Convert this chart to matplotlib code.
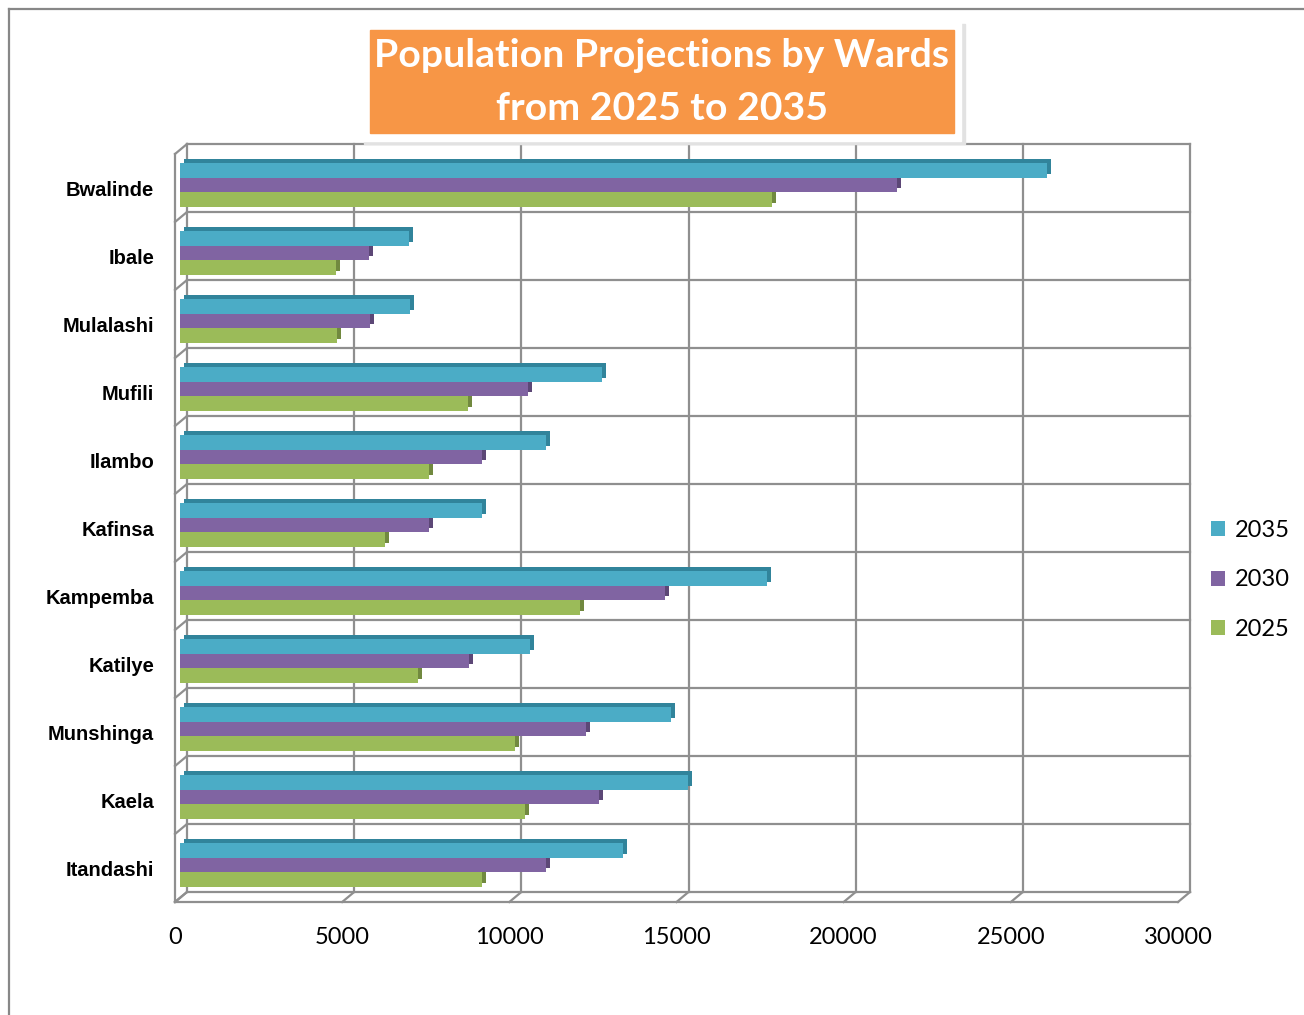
import numpy as np
import matplotlib
matplotlib.use("Agg")
import matplotlib.pyplot as plt
from matplotlib.patches import Rectangle
from matplotlib.lines import Line2D
from matplotlib.transforms import ScaledTranslation

wards = ['Bwalinde', 'Ibale', 'Mulalashi', 'Mufili', 'Ilambo', 'Kafinsa',
         'Kampemba', 'Katilye', 'Munshinga', 'Kaela', 'Itandashi']
pop_2035 = [25930, 6860, 6880, 12620, 10940, 9030, 17550, 10470, 14680, 15180, 13260]
pop_2030 = [21440, 5660, 5680, 10420, 9030, 7460, 14510, 8635, 12140, 12520, 10950]
pop_2025 = [17700, 4670, 4690, 8605, 7460, 6140, 11970, 7130, 10020, 10330, 9040]
years = ['2035', '2030', '2025']
x_ticks = [0, 5000, 10000, 15000, 20000, 25000, 30000]

face_cols = ['#4BACC6', '#8064A2', '#9BBB59']
side_cols = ['#31849B', '#5C4776', '#71893F']
grid_col = '#8f8f8f'

W, H = 1304, 1015
fig = plt.figure(figsize=(W / 100, H / 100), dpi=100)

def fx(px):
    return px / W

def fy(py):
    return 1 - py / H

# back wall of the pseudo 3D plot area
ax = fig.add_axes([fx(187), fy(892), fx(1190) - fx(187), fy(144) - fy(892)])
ax.set_xlim(0, 30000)
ax.set_ylim(10.5, -0.5)
ax.axis('off')

def shift(dx, dy):
    # offset in pixels (dy positive = up)
    return ax.transData + ScaledTranslation(dx / 100, dy / 100, fig.dpi_scale_trans)

front = shift(-12, -10)
lw = 1.6

for x in x_ticks:
    ax.plot([x, x], [-0.5, 10.5], color=grid_col, lw=lw, zorder=1, clip_on=False)
    t = fig.dpi_scale_trans + ScaledTranslation(x, 10.5, ax.transData)
    ax.plot([0, -0.12], [0, -0.10], color=grid_col, lw=lw, transform=t, clip_on=False)
for y in np.arange(-0.5, 11, 1.0):
    ax.plot([0, 30000], [y, y], color=grid_col, lw=lw, zorder=1, clip_on=False)
    t = fig.dpi_scale_trans + ScaledTranslation(0, y, ax.transData)
    ax.plot([0, -0.12], [0, -0.10], color=grid_col, lw=lw, transform=t, clip_on=False)

ax.plot([0, 30000], [10.5, 10.5], color=grid_col, lw=lw, transform=front, clip_on=False)
ax.plot([0, 0], [-0.5, 10.5], color=grid_col, lw=lw, transform=front, clip_on=False)

# bars: darker copy behind gives the top and side faces
ypos = np.arange(len(wards))
h = 0.216
bar_tr = shift(-7, -7)
depth_tr = shift(-3, -3)
handles = []
for i, vals in enumerate([pop_2035, pop_2030, pop_2025]):
    yy = ypos + (i - 1) * h
    ax.barh(yy, vals, height=h, color=side_cols[i], lw=0, transform=depth_tr,
            zorder=2, clip_on=False)
    b = ax.barh(yy, vals, height=h, color=face_cols[i], lw=0, transform=bar_tr,
                zorder=3, clip_on=False)
    handles.append(b)

for k, name in enumerate(wards):
    ax.text(0, k, name, transform=shift(-33, -13), ha='right', va='center',
            fontsize=14.5, fontweight='bold', family='Liberation Sans')

for x in x_ticks:
    ax.text(x, 10.5, str(x), transform=shift(-12, -46), ha='center', va='center',
            fontsize=17, family='Lato')

fig.legend(handles, years, loc='center left', bbox_to_anchor=(fx(1190), fy(580)),
           frameon=False, prop={'family': 'Lato', 'size': 17},
           handlelength=0.6, handleheight=0.6, handletextpad=0.4, labelspacing=1.2)

# title box
fig.patches.append(Rectangle((fx(364), fy(144)), fx(601), fy(24) - fy(144),
                             transform=fig.transFigure, color='#e2e2e2', zorder=5))
fig.patches.append(Rectangle((fx(362), fy(141)), fx(599), fy(22) - fy(141),
                             transform=fig.transFigure, color='white', zorder=6))
fig.patches.append(Rectangle((fx(370), fy(133)), fx(584), fy(30) - fy(133),
                             transform=fig.transFigure, color='#F79646', zorder=7))
fig.text(fx(662), fy(82), 'Population Projections by Wards\nfrom 2025 to 2035',
         ha='center', va='center', color='white', fontsize=28.3, fontweight='bold',
         family='Lato', linespacing=1.62, zorder=8)

# outer chart border
fig.add_artist(Line2D([fx(9), fx(9)], [fy(9), 0], color='#878787', lw=1.6))
fig.add_artist(Line2D([fx(9), 1], [fy(9), fy(9)], color='#878787', lw=1.6))

fig.savefig('out.png', dpi=100)
